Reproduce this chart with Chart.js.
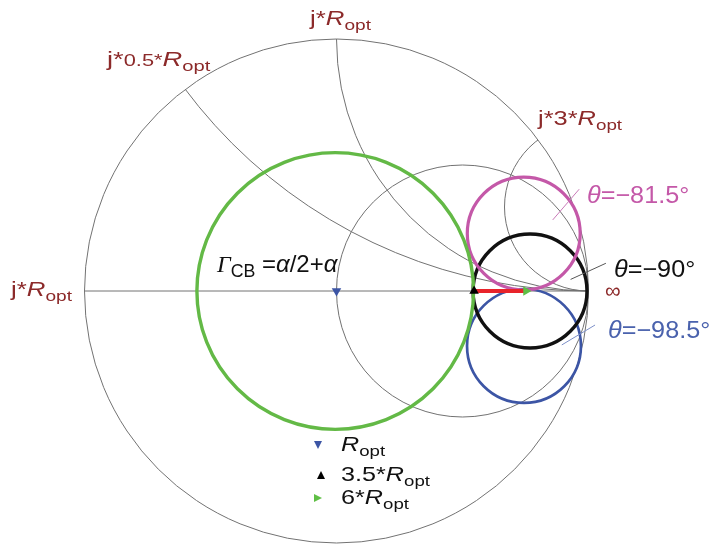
<!DOCTYPE html>
<html>
<head>
<meta charset="utf-8">
<title>Smith chart</title>
<script src="https://cdn.jsdelivr.net/npm/chart.js@4.4.1/dist/chart.umd.min.js"></script>
<style>
  html, body { margin: 0; padding: 0; background: #fff; }
  #wrap { position: relative; width: 714px; height: 545px; overflow: hidden; }
  #chart { position: absolute; left: 0; top: 0; }
  .lbl { position: absolute; font-family: "Liberation Sans", Arial, sans-serif; white-space: nowrap; line-height: 1; transform-origin: 0 0; }
  .lbl sub { font-size: 0.74em; vertical-align: -0.3em; line-height: 0; }
  .lbl .sm { font-size: 0.8em; }
  .lbl .serif { font-family: "Liberation Serif", "Times New Roman", serif; font-style: italic; }
  .tri { position: absolute; width: 0; height: 0; }
</style>
</head>
<body>
<div id="wrap"><canvas id="chart" width="714" height="545"></canvas></div>
<script>
(function () {
    "use strict";

    // Smith 圆图网格（归一化到 Ropt）
    var resistanceCircles = [1];
    var reactanceArcs = [0.5, 1, 3];

    // 轨迹圆：Γ 平面中的圆心与半径
    var traceNames = ["CB", "θ=-81.5°", "θ=-90°", "θ=-98.5°"];
    var traceCenterRe = [-0.005, 0.743, 0.768, 0.744];
    var traceCenterIm = [0, 0.228, 0, -0.218];
    var traceRadius = [0.549, 0.224, 0.226, 0.226];

    // 负载点（Γ 实轴）
    var markerNames = ["Ropt", "3.5*Ropt", "6*Ropt"];
    var markerRe = [0, 0.546, 0.752];
    var markerIm = [0, 0, 0];

    // ---- 样式与版面 ----
    var W = 714, H = 545;
    var UNIT = 252, ORIGIN_X = 336.5, ORIGIN_Y = 291;
    var GRID = "#727272";
    var DARK_RED = "#8c2a2a";
    var traceColors = ["#63b946", "#c458a8", "#111111", "#3c55a5"];
    var traceWidths = [3.4, 3.2, 3.4, 2.7];
    var markerColors = ["#3c55a5", "#000000", "#5fbf45"];
    var markerRotation = [180, 0, 90];

    // 标注引线（Γ 坐标）
    var callouts = [
        { from: [0.858, 0.282], to: [0.963, 0.404], color: "#c97ab8" },
        { from: [0.929, 0.046], to: [1.069, 0.110], color: "#555555" },
        { from: [0.894, -0.214], to: [1.026, -0.135], color: "#7d90c8" }
    ];

    function ropt(text) {
        return text.replace("Ropt", "<i>R</i><sub>opt</sub>");
    }

    var textLabels = [
        { html: ropt("j*Ropt"), x: 310, base: 25, size: 21, sx: 1.23, color: DARK_RED },
        { html: "j*<span class='sm'>0.5*</span>" + ropt("Ropt"), x: 107, base: 66, size: 21, sx: 1.3, color: DARK_RED },
        { html: ropt("j*3*Ropt"), x: 538, base: 125, size: 21, sx: 1.21, color: DARK_RED },
        { html: ropt("j*Ropt"), x: 11, base: 296, size: 21, sx: 1.23, color: DARK_RED },
        { html: "∞", x: 605, base: 299, size: 22, sx: 1, color: DARK_RED },
        { html: "<span class='serif'>Γ</span><sub>CB</sub> =<i>α</i>/2+<i>α</i>", x: 217, base: 272, size: 24, sx: 1, color: "#111" },
        { html: "<i>θ</i>=−81.5°", x: 587, base: 203, size: 24, sx: 1.05, color: "#c458a8" },
        { html: "<i>θ</i>=−90°", x: 614, base: 277, size: 24, sx: 1.05, color: "#111" },
        { html: "<i>θ</i>=−98.5°", x: 608, base: 338, size: 24, sx: 1.05, color: "#4a62ad" }
    ];

    var legendText = { x: 341, bases: [451, 481, 504], size: 21, sx: 1.2 };
    var legendMarks = [[318, 445], [321, 475], [318, 498]];

    // 网格与引线：直接走 chart 的坐标轴换算
    var smithGrid = {
        id: "smithGrid",
        beforeDatasetsDraw: function (chart) {
            var ctx = chart.ctx, sx = chart.scales.x, sy = chart.scales.y;
            var px = function (v) { return sx.getPixelForValue(v); };
            var py = function (v) { return sy.getPixelForValue(v); };
            var unit = px(1) - px(0);
            ctx.save();
            ctx.strokeStyle = GRID;
            ctx.lineWidth = 1;
            ctx.beginPath();
            ctx.arc(px(0), py(0), unit, 0, Math.PI * 2);
            ctx.stroke();
            ctx.beginPath();
            ctx.moveTo(px(-1), py(0));
            ctx.lineTo(px(1), py(0));
            ctx.stroke();
            ctx.beginPath();
            ctx.arc(px(0), py(0), unit, 0, Math.PI * 2);
            ctx.clip();
            resistanceCircles.forEach(function (r) {
                ctx.beginPath();
                ctx.arc(px(r / (r + 1)), py(0), unit / (r + 1), 0, Math.PI * 2);
                ctx.stroke();
            });
            reactanceArcs.forEach(function (x) {
                ctx.beginPath();
                ctx.arc(px(1), py(1 / x), unit / x, 0, Math.PI * 2);
                ctx.stroke();
            });
            ctx.restore();
        },
        afterDatasetsDraw: function (chart) {
            var ctx = chart.ctx, sx = chart.scales.x, sy = chart.scales.y;
            ctx.save();
            ctx.lineWidth = 1;
            callouts.forEach(function (c) {
                ctx.strokeStyle = c.color;
                ctx.beginPath();
                ctx.moveTo(sx.getPixelForValue(c.from[0]), sy.getPixelForValue(c.from[1]));
                ctx.lineTo(sx.getPixelForValue(c.to[0]), sy.getPixelForValue(c.to[1]));
                ctx.stroke();
            });
            ctx.restore();
        }
    };

    var datasets = [];
    markerNames.forEach(function (name, i) {
        datasets.push({
            type: "scatter",
            label: name,
            data: [{ x: markerRe[i], y: markerIm[i] }],
            pointStyle: "triangle",
            rotation: markerRotation[i],
            pointRadius: 5.5,
            backgroundColor: markerColors[i],
            borderWidth: 0,
            order: 0
        });
    });
    // 3.5*Ropt → 6*Ropt 扫描段
    datasets.push({
        type: "line",
        label: "sweep",
        data: [{ x: markerRe[1], y: markerIm[1] }, { x: markerRe[2], y: markerIm[2] }],
        borderColor: "#e8232a",
        borderWidth: 4,
        pointRadius: 0,
        order: 1
    });
    var traceSets = traceNames.map(function (name, i) {
        var ds = {
            type: "scatter",
            label: name,
            data: [{ x: traceCenterRe[i], y: traceCenterIm[i] }],
            pointStyle: "circle",
            pointRadius: 0,
            pointBackgroundColor: "rgba(0,0,0,0)",
            pointBorderColor: traceColors[i],
            pointBorderWidth: traceWidths[i],
            order: 2 + i
        };
        datasets.push(ds);
        return ds;
    });

    var chart = new Chart(document.getElementById("chart"), {
        type: "scatter",
        data: { datasets: datasets },
        options: {
            responsive: false,
            animation: false,
            events: [],
            layout: { padding: 0, autoPadding: false },
            scales: {
                x: { type: "linear", display: false, min: -ORIGIN_X / UNIT, max: (W - ORIGIN_X) / UNIT },
                y: { type: "linear", display: false, min: -(H - ORIGIN_Y) / UNIT, max: ORIGIN_Y / UNIT }
            },
            plugins: { legend: { display: false }, tooltip: { enabled: false } }
        },
        plugins: [smithGrid]
    });

    // 圆半径是 Γ 单位，布局完成后按 x 轴换算成像素
    var xs = chart.scales.x;
    var unitPx = xs.getPixelForValue(1) - xs.getPixelForValue(0);
    traceSets.forEach(function (ds, i) { ds.pointRadius = traceRadius[i] * unitPx; });
    chart.update();

    // ---- 文字标注（HTML 文本） ----
    var wrap = document.getElementById("wrap");
    function addLabel(html, x, base, size, sx, color) {
        var el = document.createElement("div");
        el.className = "lbl";
        el.innerHTML = html;
        el.style.left = x + "px";
        el.style.top = (base - 0.85 * size) + "px";
        el.style.fontSize = size + "px";
        el.style.color = color;
        if (sx !== 1) el.style.transform = "scaleX(" + sx + ")";
        wrap.appendChild(el);
    }
    textLabels.forEach(function (l) { addLabel(l.html, l.x, l.base, l.size, l.sx, l.color); });

    markerNames.forEach(function (name, i) {
        addLabel(ropt(name), legendText.x, legendText.bases[i], legendText.size, legendText.sx, "#111");
        var t = document.createElement("div");
        t.className = "tri";
        var cx = legendMarks[i][0], cy = legendMarks[i][1];
        var c = markerColors[i];
        if (markerRotation[i] === 180) {
            t.style.borderLeft = "4.5px solid transparent";
            t.style.borderRight = "4.5px solid transparent";
            t.style.borderTop = "8px solid " + c;
            t.style.left = (cx - 4.5) + "px";
            t.style.top = (cy - 4) + "px";
        } else if (markerRotation[i] === 0) {
            t.style.borderLeft = "4.5px solid transparent";
            t.style.borderRight = "4.5px solid transparent";
            t.style.borderBottom = "8px solid " + c;
            t.style.left = (cx - 4.5) + "px";
            t.style.top = (cy - 4) + "px";
        } else {
            t.style.borderTop = "4.5px solid transparent";
            t.style.borderBottom = "4.5px solid transparent";
            t.style.borderLeft = "8px solid " + c;
            t.style.left = (cx - 4) + "px";
            t.style.top = (cy - 4.5) + "px";
        }
        wrap.appendChild(t);
    });
})();
</script>
</body>
</html>
